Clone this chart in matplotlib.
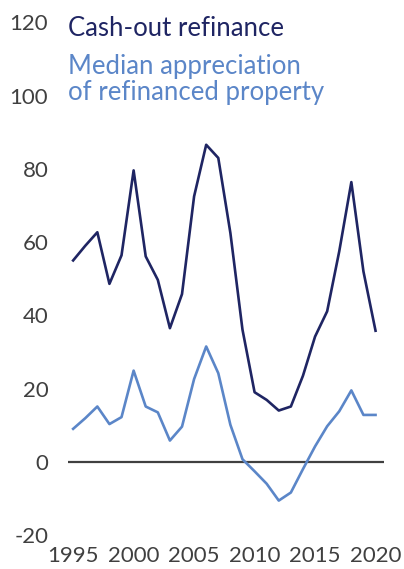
import matplotlib.pyplot as plt

years = list(range(1995, 2021))
cash_out = [55.0, 59.0, 62.7, 48.6, 56.4, 79.6, 56.1, 49.7, 36.5, 45.8,
            72.5, 86.6, 83.0, 62.5, 36.1, 19.0, 16.9, 14.0, 15.1, 23.5,
            34.2, 41.1, 57.5, 76.4, 52.0, 35.8]
appreciation = [9.0, 11.9, 15.1, 10.3, 12.2, 24.9, 15.1, 13.5, 5.8, 9.6,
                22.6, 31.5, 24.2, 10.1, 0.7, -2.6, -6.0, -10.6, -8.4, -2.0,
                4.2, 9.7, 13.8, 19.5, 12.8, 12.8]
yticks = [-20, 0, 20, 40, 60, 80, 100, 120]
xticks = [1995, 2000, 2005, 2010, 2015, 2020]

dark = "#1f2563"
light = "#5b86c8"
grey = "#404040"

plt.rcParams['font.family'] = ['Lato', 'DejaVu Sans']
plt.rcParams['axes.unicode_minus'] = False

W, H = 404, 569
fig = plt.figure(figsize=(W / 100, H / 100), dpi=100)
ax = fig.add_axes([68.3 / W, 1 - 535 / H, (384 - 68.3) / W, (535 - 22.5) / H])

ax.axhline(0, color=grey, lw=1.6, zorder=1)
ax.plot(years, cash_out, color=dark, lw=1.9, zorder=3)
ax.plot(years, appreciation, color=light, lw=1.9, zorder=2)

ax.set_xlim(1994.6, 2020.7)
ax.set_ylim(-20, 120)
ax.set_yticks(yticks)
ax.set_xticks(xticks)
ax.tick_params(length=0, labelsize=16, colors=grey)
ax.tick_params(axis='y', pad=14.4)
ax.tick_params(axis='x', pad=8)
for s in ax.spines.values():
    s.set_visible(False)

fig.text(68 / W, 1 - 36 / H, "Cash-out refinance", color=dark, fontsize=18.5,
         va='baseline', ha='left')
fig.text(68 / W, 1 - 74 / H, "Median appreciation", color=light, fontsize=18.5,
         va='baseline', ha='left')
fig.text(68 / W, 1 - 100 / H, "of refinanced property", color=light, fontsize=18.5,
         va='baseline', ha='left')

fig.savefig("out.png", dpi=100)
